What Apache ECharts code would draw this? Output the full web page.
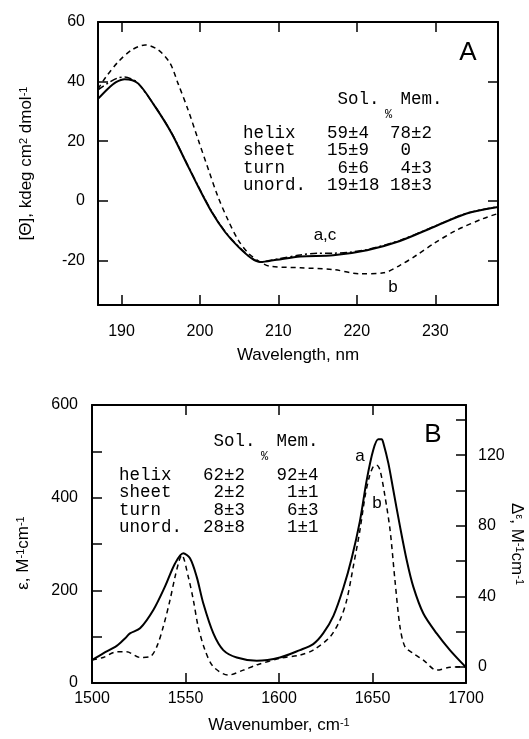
<!DOCTYPE html>
<html>
<head>
<meta charset="utf-8">
<script src="https://cdn.jsdelivr.net/npm/echarts@6/dist/echarts.min.js"></script>
<style>
  html, body { margin: 0; padding: 0; background: #fff; }
  #chart { width: 529px; height: 739px; }
</style>
</head>
<body>
<div id="chart"></div>
<script>
// Panel A: CD spectra, wavelength (nm) vs [Θ] (kdeg cm2 dmol-1)
const cdAX = [187, 188.3, 189.3, 190.4, 192.1, 194.3, 196.4, 198.1, 199.8, 201.5, 203.2, 204.9, 206.6, 207.7, 209.8, 212.8, 217, 221.3, 225.5, 229.8, 234, 238];
const cdAY = [34.2, 37.7, 39.8, 40.8, 39.4, 31.5, 22.6, 13.6, 4.6, -3.8, -10.5, -15.5, -19.4, -20.6, -19.8, -18.7, -18.3, -16.6, -13.5, -8.8, -4.3, -2.1];

const cdBX = [187, 188, 189.6, 191.3, 193, 194.7, 196.2, 197.2, 198.5, 199.8, 201.1, 202.3, 203.6, 204.9, 206.2, 207.7, 208.9, 212.8, 217, 220.4, 223.4, 225.5, 227.6, 229.8, 232.7, 236.1, 238];
const cdBY = [37.5, 41.5, 46.7, 50.6, 52.3, 50.6, 46.1, 39.4, 30.4, 20.3, 10.3, 1.3, -6.6, -13.3, -17.7, -20.6, -22, -22.5, -23.1, -24.5, -24.2, -21.7, -18.3, -14.4, -9.9, -6, -4.3];

const cdCX = [187, 188.3, 189.5, 190.4, 191.5, 192.1, 194.3, 196.4, 198.1, 199.8, 201.5, 203.2, 204.9, 206.6, 207.7, 209.8, 212.8, 215, 217, 219, 221.3, 225.5, 229.8, 234, 238];
const cdCY = [37.2, 39.5, 41.2, 41.5, 40.6, 39.5, 31.6, 22.7, 13.7, 4.8, -3.6, -10.3, -15.3, -19.3, -20.5, -19.6, -18.2, -17.6, -17.6, -17.3, -16.4, -13.3, -8.7, -4.2, -2.0];

// Panel B: IR absorbance (ε, left) and linear dichroism (Δε, right)
const irAbsX = [1500, 1506, 1513.2, 1517.6, 1520.3, 1525.7, 1532.8, 1539, 1544.4, 1548.8, 1552.4, 1556, 1559.5, 1564.9, 1570.2, 1577.4, 1588.1, 1600.5, 1611.2, 1618.3, 1623.6, 1629.1, 1634.4, 1638.9, 1643.3, 1646.9, 1650.4, 1653.1, 1654.9, 1655.8, 1658.5, 1661.1, 1664.7, 1668.3, 1671.8, 1677.2, 1684.3, 1691.4, 1699, 1700];
const irAbsY = [49.6, 64, 80, 96, 107, 118, 157.6, 208, 258, 280, 269, 229, 172, 107, 71, 55, 48, 55, 71, 84, 107, 145, 205, 270, 350, 438, 503, 526, 526, 518, 474, 417, 338, 265, 208, 150, 107, 71, 38, 35];

const irLdX = [1500, 1506, 1513.2, 1518.5, 1525.7, 1531, 1534.6, 1538.1, 1541.7, 1544.4, 1546.7, 1548, 1551.5, 1554.2, 1556.8, 1560.4, 1564.9, 1572.9, 1580.9, 1588.1, 1600.5, 1611.2, 1618.3, 1627.3, 1632.6, 1636.2, 1639.7, 1643.3, 1646, 1648.3, 1650.4, 1652.2, 1654, 1656.7, 1659.4, 1662, 1664.7, 1667.4, 1671.8, 1677.2, 1684.3, 1691.4, 1698.6, 1700];
const irLdY = [3.8, 5.3, 8.5, 8.5, 5.3, 5.7, 11.3, 22.7, 37.8, 51, 60.5, 63.4, 51, 37.8, 22.7, 9.5, 0, -4.7, -1.9, 1, 4.8, 6.6, 9.5, 17, 26.5, 37.8, 56.7, 77.6, 96.5, 107.8, 113.5, 114.4, 111.6, 96.5, 77.6, 49.2, 22.7, 11.3, 7.6, 3.8, -1.9, -0.3, 0, 0];

// ticks and labels
const cdXTicks = [190, 200, 210, 220, 230];
const cdYTicks = [-20, 0, 20, 40, 60];
const ldTicks = [0, 20, 40, 60, 80, 100, 120, 140];
const ldLabels = [0, 40, 80, 120];

// secondary structure tables
const tableHead = '         Sol.  Mem.';
const tableA = ['helix   59±4  78±2', 'sheet   15±9   0', 'turn     6±6   4±3', 'unord.  19±18 18±3'];
const tableB = ['helix   62±2   92±4', 'sheet    2±2    1±1', 'turn     8±3    6±3', 'unord.  28±8    1±1'];

const pair = (xs, ys) => xs.map((x, i) => [x, ys[i]]);

const SANS = '"Liberation Sans", Arial, sans-serif';
const MONO = '"Liberation Mono", "Courier New", monospace';
const lineAx = { show: true, onZero: false, lineStyle: { color: '#000', width: 2 } };
const tick = (vals) => ({ show: true, inside: true, length: 10, lineStyle: { color: '#000', width: 1.5 }, customValues: vals });
const label = (vals, margin) => ({ show: true, color: '#000', fontSize: 16, fontFamily: SANS, margin: margin, customValues: vals });
const noLabel = { show: false };
const sup = { fontSize: 11, fontFamily: SANS, color: '#000', verticalAlign: 'top', lineHeight: 14 };

const chart = echarts.init(document.getElementById('chart'), null, { renderer: 'canvas' });

function tableGraphic(x, y0, rows) {
  const out = [
    { type: 'text', x: x, y: y0, style: { text: tableHead, fontSize: 17.5, fontFamily: MONO, fill: '#000', verticalAlign: 'middle' } },
    { type: 'text', x: x + 142, y: y0 + 16, style: { text: '%', fontSize: 12, fontFamily: MONO, fill: '#000', verticalAlign: 'middle' } }
  ];
  rows.forEach((r, i) => {
    out.push({ type: 'text', x: x, y: y0 + 34 + i * 17.6, style: { text: r, fontSize: 17.5, fontFamily: MONO, fill: '#000', verticalAlign: 'middle' } });
  });
  return out;
}

function tag(text, x, y, size) {
  return { type: 'text', x: x, y: y, style: { text: text, fontSize: size, fontFamily: SANS, fill: '#000', align: 'center', verticalAlign: 'middle' } };
}

chart.setOption({
  backgroundColor: '#fff',
  animation: false,
  grid: [
    { left: 98, top: 22, width: 400, height: 283, outerBoundsMode: 'none' },
    { left: 92, top: 405, width: 374, height: 278, outerBoundsMode: 'none' }
  ],
  xAxis: [
    {
      type: 'value', gridIndex: 0, min: 187, max: 238, position: 'bottom',
      axisLine: lineAx, axisTick: tick(cdXTicks), axisLabel: label(cdXTicks, 19), splitLine: { show: false },
      name: 'Wavelength, nm', nameLocation: 'middle', nameGap: 42,
      nameTextStyle: { fontSize: 17, fontFamily: SANS, color: '#000' }
    },
    {
      type: 'value', gridIndex: 0, min: 187, max: 238, position: 'top',
      axisLine: lineAx, axisTick: tick(cdXTicks), axisLabel: noLabel, splitLine: { show: false }
    },
    {
      type: 'value', gridIndex: 1, min: 1500, max: 1700, interval: 50, position: 'bottom',
      axisLine: lineAx, axisTick: { show: true, inside: true, length: 10, lineStyle: { color: '#000', width: 1.5 } },
      axisLabel: { color: '#000', fontSize: 16, fontFamily: SANS, margin: 8, showMinLabel: true, showMaxLabel: true,
        formatter: (v) => String(v) },
      splitLine: { show: false },
      name: 'Wavenumber, cm{s|-1}', nameLocation: 'middle', nameGap: 34,
      nameTextStyle: { fontSize: 17, fontFamily: SANS, color: '#000', rich: { s: sup } }
    },
    {
      type: 'value', gridIndex: 1, min: 1500, max: 1700, interval: 50, position: 'top',
      axisLine: lineAx, axisTick: { show: true, inside: true, length: 10, lineStyle: { color: '#000', width: 1.5 } },
      axisLabel: noLabel, splitLine: { show: false }
    }
  ],
  yAxis: [
    {
      type: 'value', gridIndex: 0, min: -35, max: 60, position: 'left',
      axisLine: lineAx, axisTick: tick(cdYTicks), axisLabel: label(cdYTicks, 13), splitLine: { show: false },
      name: '[Θ], kdeg cm{s|2} dmol{s|-1}', nameLocation: 'middle', nameGap: 63, nameMoveOverlap: false,
      nameTextStyle: { fontSize: 17, fontFamily: SANS, color: '#000', rich: { s: sup } }
    },
    {
      type: 'value', gridIndex: 0, min: -35, max: 60, position: 'right',
      axisLine: lineAx, axisTick: tick(cdYTicks), axisLabel: noLabel, splitLine: { show: false }
    },
    {
      type: 'value', gridIndex: 1, min: 0, max: 600, interval: 100, position: 'left',
      axisLine: lineAx, axisTick: { show: true, inside: true, length: 10, lineStyle: { color: '#000', width: 1.5 } },
      axisLabel: { color: '#000', fontSize: 16, fontFamily: SANS, margin: 14, showMinLabel: true, showMaxLabel: true,
        formatter: (v) => (v % 200 === 0 ? String(v) : '') },
      splitLine: { show: false },
      name: 'ε, M{s|-1}cm{s|-1}', nameLocation: 'middle', nameGap: 60, nameMoveOverlap: false,
      nameTextStyle: { fontSize: 17, fontFamily: SANS, color: '#000', rich: { s: sup }, padding: [0, 18, 0, 0] }
    },
    {
      type: 'value', gridIndex: 1, min: -9.2, max: 148.5, position: 'right',
      axisLine: lineAx, axisTick: tick(ldTicks), axisLabel: label(ldLabels, 12), splitLine: { show: false },
      name: 'Δ{s|ε}, M{s|-1}cm{s|-1}', nameLocation: 'middle', nameGap: 42, nameRotate: -90, nameMoveOverlap: false,
      nameTextStyle: { fontSize: 17, fontFamily: SANS, color: '#000', rich: { s: sup } }
    }
  ],
  series: [
    { type: 'line', xAxisIndex: 0, yAxisIndex: 0, data: pair(cdAX, cdAY), smooth: 0.3, showSymbol: false,
      lineStyle: { color: '#000', width: 2 } },
    { type: 'line', xAxisIndex: 0, yAxisIndex: 0, data: pair(cdCX, cdCY), smooth: 0.3, showSymbol: false,
      lineStyle: { color: '#000', width: 1.5, type: [7, 3, 2, 3] } },
    { type: 'line', xAxisIndex: 0, yAxisIndex: 0, data: pair(cdBX, cdBY), smooth: 0.3, showSymbol: false,
      lineStyle: { color: '#000', width: 1.5, type: [5, 4] } },
    { type: 'line', xAxisIndex: 2, yAxisIndex: 2, data: pair(irAbsX, irAbsY), smooth: 0.3, showSymbol: false,
      lineStyle: { color: '#000', width: 2 } },
    { type: 'line', xAxisIndex: 2, yAxisIndex: 3, data: pair(irLdX, irLdY), smooth: 0.3, showSymbol: false,
      lineStyle: { color: '#000', width: 1.5, type: [5, 4] } }
  ],
  graphic: [
    ...tableGraphic(243, 99, tableA),
    ...tableGraphic(119, 441, tableB),
    tag('A', 468, 53, 26),
    tag('B', 433, 435, 26),
    tag('a,c', 325, 235, 17),
    tag('b', 393, 287, 17),
    tag('a', 360, 456, 17),
    tag('b', 377, 503, 17)
  ]
});
</script>
</body>
</html>
